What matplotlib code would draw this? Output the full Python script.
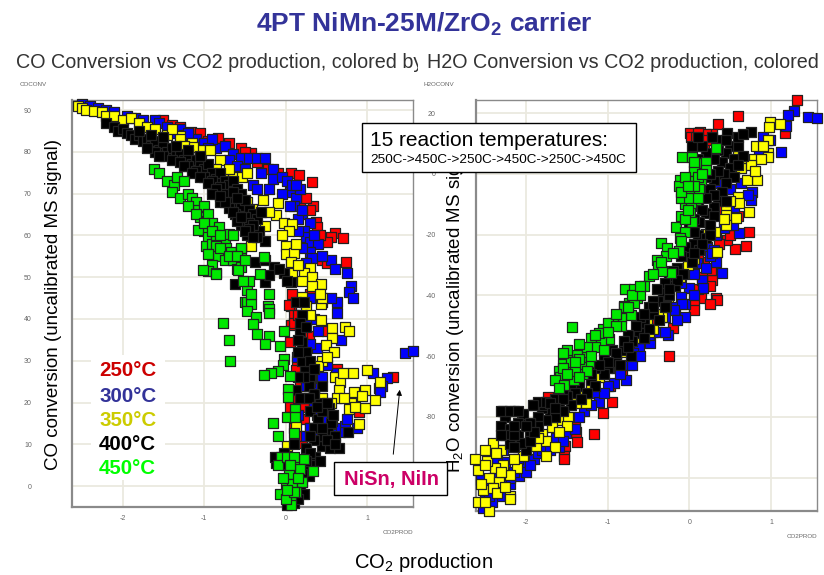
import matplotlib
matplotlib.use('Agg')
import matplotlib.pyplot as plt
from matplotlib.patches import Rectangle, FancyArrowPatch
from matplotlib.transforms import Bbox, TransformedBbox

plt.rcParams['font.family'] = ['Liberation Sans', 'DejaVu Sans']
plt.rcParams['mathtext.default'] = 'regular'
plt.rcParams['axes.unicode_minus'] = False

W, H = 824, 575

# CO conversion panel, (CO2 production, CO conversion)
co_red = [(-1.5,87.5),(-1.4,86.5),(-1.16,84.7),(-1.05,84.4),(-.83,83.2),(-.95,82.5),(-.55,81),(-.43,79.6),(-.5,80),(-.22,76),(.06,75),(.16,74.4),
          (.32,72.8),(.18,68),(.33,67),(.3,66),(.37,63.2),(.38,62),(.61,60.5),(.55,59.5),(.7,59.3),(.5,58.5),(.74,53.6),(.44,54),(.5,53.5),
          (.08,46),(.06,43),(.04,43.3),(.1,41),(.06,38.5),(.28,36),(.05,34.5),(.22,32.5),(.14,30),(.12,27.8),(.43,26),(.63,28),(1.32,26),
          (1.14,23.4),(.05,19),(.23,19),(.23,16),(.1,14),(.2,10.3),(.9,17.8),(.3,46),(.1,39),(.2,36),(-1.3,86),(-1.2,84),(-.7,82),(-.35,77.5),
          (-.1,75),(.1,72),(.25,69),(.42,60),(.15,41),(.25,41),(.18,25),(.05,23),(.15,21),(.3,14),(.15,12),(.35,23),(.5,37)]
co_blue = [(-2.5,91.5),(-2.4,91),(-2.3,90.5),(-2.2,90),(-2.1,89.5),(-1.95,88.5),(-1.85,88),(-1.75,87.5),(-1.6,87.5),(-1.55,87),(-1.45,86),
           (-1.3,85.5),(-1.25,84),(-1.1,83),(-1,82),(-.85,81),(-.75,81.5),(-.65,79.5),(-.55,78.5),(-.45,78.5),(-.35,78.5),(-.25,78.5),(-.3,75),
           (-.15,76),(-.4,72),(-.35,71),(-.15,73.5),(-.05,74),(.02,73),(.05,70.5),(.12,69),(.17,71),(.1,67),(.2,65),(.15,64),(.3,63),(.22,61),
           (.25,59.5),(.3,58.5),(.4,58),(.3,56),(.32,54.5),(.25,53.5),(.55,54),(.75,51),(.8,48),(.78,46.5),(.82,45),(.63,44),(.63,41.5),(.55,45),
           (.3,45),(.35,40),(.68,35),(.38,33),(.14,31),(.62,27),(.35,23.5),(.38,17),(.5,15.5),(.73,14.5),(.87,14),(.67,13),(.4,13),(.25,12),
           (1.46,31.8),(1.56,32.3),(1.07,27),(1.24,25.8),(1.18,24),(1.15,22.5),(-.9,83),(-.7,78),(.08,72),(.2,66),(.6,14),(-1.4,84.5),(-1.2,84.5),
           (-.95,81),(-.6,76.5),(-.5,76),(-.2,71),(-.05,70),(.12,72),(.05,67),(.15,61),(.35,60),(.2,57),(.45,55),(.6,52),(.45,44),(.25,39),(.4,37),
           (.3,34),(.5,29),(.45,26),(.25,24),(.35,20),(.15,17),(.55,12.5),(.3,14),(.75,16)]
co_yellow = [(-2.55,91),(-2.5,90.5),(-2.45,90),(-2.35,89.8),(-2.25,89.5),(-2.2,88.5),(-2.1,88.5),(-2,87.5),(-1.9,88),(-1.8,87),(-1.7,86),(-1.6,85.5),
             (-1.45,84),(-1.3,83.8),(-1.15,82),(-1.05,80.5),(-1.3,80.4),(-1.14,81.2),(-1.3,83),(-1.04,78.8),(-.93,80.5),(-.81,78),(-.9,74.2),(-.77,74.4),
             (-.65,74),(-.53,74),(-.48,75),(-.47,68),(-.28,68.4),(-.41,66.2),(-.1,67.7),(-.12,64.8),(-.02,63),(.08,62.8),(.04,61),(-.26,62.2),(-.43,57.4),
             (0,57.5),(0,55.6),(.1,55.7),(.07,53.6),(.3,52.3),(.22,51),(.32,50),(.08,51),(.2,49),(.43,48.3),(.32,48),(.2,45.2),(.43,43.5),(.25,43),
             (.45,45),(.43,39.7),(.57,37.8),(.73,38),(.78,37),(.57,35.5),(.49,33.8),(.59,32),(.45,30),(.39,28.8),(.6,26),(.67,25),(.83,27),(1,27.8),
             (.65,23),(.84,22.5),(.97,23),(.93,21.5),(.8,20),(.63,21),(.97,18.7),(1.1,20.5),(.78,18.5),(1.16,25),(.45,21),(.25,21),(.57,15.7),(.9,14.8),
             (.59,11.7),(.13,14.3),(.02,9.5),(-1.4,85.5),(-1.25,81.5),(-1.2,79.5),(-.7,76),(-.85,76),(-.2,65.5),(-.05,60),(.12,58),(.15,53),(.42,46),(.3,41),
             (.5,31),(.7,27),(.55,20),(.72,21),(.85,19),(.3,25)]
co_black = [(-2.2,87),(-2.1,86),(-2.05,85),(-2,85.5),(-1.95,84.5),(-1.9,84),(-1.85,83),(-1.8,84),(-1.75,82.5),(-1.7,83),(-1.65,81.5),(-1.6,82.5),
            (-1.55,80.5),(-1.5,82),(-1.45,80),(-1.4,81),(-1.35,79),(-1.3,79.5),(-1.25,78),(-1.2,79),(-1.15,77),(-1.1,78),(-1.05,76.5),(-1,76),(-.95,77),
            (-.9,75),(-.85,73.5),(-.8,75),(-.75,73),(-.7,72),(-.65,73),(-.6,71),(-.7,69.5),(-.65,68),(-.55,67),(-.55,70),(-.5,68.5),(-.45,66),(-.4,65),
            (-.35,64),(-.3,65.5),(-.47,60),(-.26,58.6),(-.33,61),(-.55,62.5),(-.62,65),(-.81,68),(-.38,53.6),(-.26,54),(-.14,52.4),(-.02,51),(.06,48.8),
            (-.26,48.8),(-.62,48.3),(.2,41),(.17,37),(.2,34.5),(.24,28),(.3,26),(.44,24),(.12,23),(.42,20),(.53,18.7),(.52,13.5),(.76,13),(.44,9.5),
            (.54,9),(.36,7),(.3,5),(.28,2.5),(.17,-1),(.01,-4.5),(-.12,5.5),(-.02,8),(.2,30),(.28,24),(.35,22),(.3,18),(.4,16),(.45,12),(.35,11),(.25,9),
            (.3,8),(.15,6),(.2,3),(.1,0),(.22,-2),(.05,-2.5),(.1,-4),(-.13,7),(.55,11),(.65,9),(-.08,52),(-.2,50.5),(.02,49),
            (-1.6,80),(-1.5,79),(-1.4,78),(-1.3,77.5),(-1.2,76.5),(-1.1,75.5),(-1,74),(-.9,73),(-.8,71.5),(-.75,70),(-.65,70.5),(-.6,69),(-.5,64.5),
            (-.45,63),(-.4,62.5),(-.45,61.5),(-.35,59.5),(-1.8,85),(-1.65,84),(-1.5,83.5),(-1.35,81.5),(-1.2,80.5),(-1.05,79),(-.7,66.5),(-.6,63.5),
            (.15,35),(.25,32),(.2,26),(.3,30),(.35,28),(.35,14),(.45,18),(.55,15),(.3,12),(.6,12),(.1,10),(0,5),(.05,3),(-1.7,81),(-1.55,79),(-1.25,76.5),
            (-1.15,75),(-1.05,74),(-.95,72.5),(-.85,71),(-.75,68),(-.65,65.5),(-.55,64.5),(-.5,61),(-.4,59.5),(-.9,70),(-.8,69.5),(.12,44),(.22,44),(.18,39),
            (.25,38),(.15,32),(.22,26),(.15,26),(.18,21),(.28,21),(.38,19),(.5,20),(.45,14),(.58,17),(.5,11),(.6,10),(.42,6),(.25,6),(.2,1),(.12,2.5),(.15,-3),(.05,-1)]
co_green = [(-1.62,76),(-1.55,75),(-1.45,73),(-1.37,72),(-1.33,74),(-1.25,73),(-1.4,70.5),(-1.3,69),(-1.2,70),(-1.15,69),(-1.1,68),(-1.08,66),(-1,67),
            (-1.05,64.5),(-.97,63.5),(-.95,65),(-.9,63),(-.82,62),(-1,61),(-1.07,61.3),(-.95,59.5),(-.98,57.5),(-.9,58),(-.85,60),(-.75,59),(-.7,60.3),
            (-.65,60),(-.85,57.5),(-.73,57),(-.67,56),(-.55,56.5),(-.83,55),(-.75,54),(-.95,55.5),(-.65,54),(-.9,53),(-.95,51.5),(-.85,51),(-.6,52),
            (-.55,52.5),(-1.02,51.7),(-.86,50.7),(-.58,51.7),(-.32,50.8),(-.27,54.8),(-.55,57),(-.2,46),(-.48,47),(-.45,49),(-.5,44),(-.45,44),(-.22,43),
            (-.48,44),(-.43,43.5),(-.47,42),(-.2,42.5),(-.2,41.5),(-.36,40.5),(-.77,39),(-.4,38.8),(-.35,36.5),(-.2,36),(-.25,34),(-.7,35),(-.68,30),
            (-.02,37),(-.07,33.5),(-.02,30.3),(-.03,29),(-.1,27.5),(-.18,27),(-.27,26.5),(.05,26.3),(.03,23.3),(.03,21.3),(.11,18.5),(.01,16.5),(.11,16.5),
            (-.16,15),(-.1,12),(.1,12.8),(-.06,7),(-.1,5),(.02,7),(.12,5.5),(.22,6.5),(.04,3),(.18,4),(.33,3.5),(0,0),(.08,.5),(.2,1),(-.07,-2),(.07,-2.5),
            (.07,-4.5),(.12,-1.3),(0,-3),(-1.2,67),(-1.1,65),(-1,63),(-.9,61),(-.8,60),(-.8,57),(-.7,55),(-.6,55),(-.5,54),(-.52,49),(-.42,46),
            (.1,7),(.05,5),(.15,2),(-.03,2),(.1,-1.5),(.02,-1)]

# H2O conversion panel, (CO2 production, H2O conversion)
h2o_red = [(1.31,24.3),(.6,18.9),(.35,16.4),(.01,13.4),(.13,13.7),(.27,13.2),(.2,11.2),(.05,11.5),(1.17,13.4),(.05,-19),(.73,-19),(.56,-24.7),(.69,-23.7),
           (.46,-21.7),(.36,-23),(.32,-40.8),(.28,-34.9),(.26,-31.6),(.14,-40.8),(.18,-29),(.1,-28),(.06,-43),(.34,-41.5),(.05,-44.7),(-.2,-50.8),(-.25,-60),
           (-.52,-55),(-.6,-51),(-.82,-65.6),(-.97,-70),(-.95,-75),(-1.06,-78.8),(-1.17,-85.6),(-1.39,-85),(-1.37,-88.4),(-1.52,-89.7),(-1.53,-93),(-1.73,-73.5),
           (-.9,-64),(-1.53,-94),(-1.75,-90.8),(.08,9),(.15,12.5),(.6,-14),(.02,12),(.08,12),(.2,13),(.18,9),(.1,10),(-.45,-52),(.25,-37),(.15,-34),(.25,-43),(.1,-38),
           (-.5,-50),(-.55,-53),(-.45,-48),(-1.4,-82),(.1,13.5),(.22,11),(.4,-12),(.5,-20)]
h2o_blue = [(1.28,20.7),(1.2,19.4),(1.45,18.8),(1.56,18.3),(1.18,15.8),(1.12,7.2),(.98,11.2),(.77,-5.9),(.75,-8.6),(.63,-3),(.61,-19.5),(.53,-17),(.32,-20),
            (.21,-24),(.33,-29),(.4,-32.5),(.15,-35),(.09,-29.5),(-.01,-37.5),(.16,-37.5),(-.1,-40.5),(-.06,-43),(-.18,-44),(.23,-7),(.33,-3),(-.09,-43),(-.19,-44.7),
            (-.26,-53),(-.48,-55.6),(-.62,-57.4),(-.69,-59),(-.74,-63),(-.86,-64),(-.78,-68),(-.92,-69),(-1.15,-72),(-1.29,-78),(-1.53,-78),(-1.45,-80),(-1.51,-85.4),
            (-1.63,-87),(-1.9,-94),(-2.03,-96),(-2.08,-99.5),(-2.2,-102),(-2.28,-91),(-2.55,-100.7),(-2.52,-110),(-2.32,-106),(-2.42,-108),(-2.45,-103),(-2.2,-100),
            (-1.75,-88),(-1.85,-92),(-2,-98),(-1.1,-75),(-1,-70),(-.5,-53),(-.3,-47),(-2.35,-98),(-2.5,-106),(-2.3,-103),(-1.35,-80),(-1.6,-90),(-1.8,-91),(-2.1,-94),
            (-.4,-52),(-.7,-63),(-.1,-36),(.05,-40),(.3,-25),(.72,-7),(.85,7),(.9,12),(.55,-11),(.5,-5),(.42,-18),(.25,-27),(.2,-31),(.28,-26),(.05,-33),(-.05,-47),
            (-.15,-48),(-.3,-52),(-.6,-60),(-.85,-66),(-1.05,-72),(-1.2,-76),(-1.4,-84),(-1.55,-88),(-1.7,-91),(-1.95,-96),(-2.15,-98),(-2.3,-100),(-2.45,-106),(-2.4,-100),
            (-2.25,-95),(-2.35,-94),(-2.5,-108)]
h2o_yellow = [(.99,17),(1.11,16.5),(.97,15.5),(.96,11),(.82,9),(.96,7),(.96,5.7),(.79,5),(.87,5),(.65,4),(.63,2),(.83,-2),(.7,-2),(.59,-7.5),(.61,-9.5),(.45,-12),
              (.45,-13.5),(.73,-12.7),(.57,-14.5),(.45,-17),(.31,-19),(.2,-19.7),(.34,-25.6),(-.02,-30),(-.12,-34),(-.26,-40.5),(-.29,-43.5),(-.3,-43.5),(-.34,-47),
              (-.44,-51),(-.52,-48),(-.56,-54),(-.66,-54),(-.8,-58.5),(-.9,-61),(-1.15,-66),(-1.17,-68.5),(-1.1,-67),(-1.29,-73),(-1.39,-75.5),(-1.27,-75.5),(-1.57,-81),
              (-1.48,-80),(-1.68,-83.5),(-1.8,-85.5),(-1.75,-88),(-1.88,-89.5),(-1.65,-90),(-1.75,-93),(-2.03,-93),(-2.11,-97),(-2.19,-99),(-2.28,-96),(-2.38,-97),
              (-2.3,-91),(-2.4,-88.5),(-2.5,-91),(-2.62,-94),(-2.48,-94.5),(-2.58,-97.5),(-2.37,-92),(-2.45,-100),(-2.33,-101.5),(-2.52,-104),(-2.4,-103.5),(-2.58,-108),
              (-2.2,-106),(-2.2,-107),(-2.45,-111),(.75,3),(.9,9),(.6,6),(.8,1),(.5,-9),(.42,-15),(.05,-28),(-.6,-52),(-.5,-52),(-.38,-46),(-2.5,-96),(-2.55,-102),(-2.3,-98),
              (-2.35,-105),(-2.15,-94),(-2.25,-103),(-2.5,-108),(-1.35,-72),(-1.2,-70),(-1.5,-83),(-1.6,-85),(-1.85,-87)]
h2o_black = [(.46,13.5),(.75,13.7),(.03,9),(.5,9),(.45,7),(.55,5),(.4,4),(.5,2),(.42,0),(.55,-1),(.3,-2),(.45,-3),(.25,-5),(.4,-6),(.35,-9),(.3,-11),(.2,-13),(.3,-14),
             (.12,-16),(.25,-17),(.1,-20),(.2,-21),(.05,-23),(.12,-25),(-.03,-27),(.03,-29),(-.15,-31),(-.08,-33),(-.25,-35),(-.18,-37),(-.32,-39),(-.25,-40),(-.38,-42),
             (-.3,-44),(-.45,-46),(-.37,-48),(-.55,-49),(-.5,-51),(-.62,-52.5),(-.55,-54),(-.7,-55),(-.8,-58),(-.72,-60),(-.9,-62),(-.85,-63),(-1,-64),(-1.05,-66),
             (-1.2,-68),(-1.15,-70),(-1.35,-70),(-1.25,-72),(-1.4,-72),(-1.32,-74),(-1.5,-73),(-1.45,-76),(-1.6,-75),(-1.55,-78),(-1.7,-78),(-1.65,-80),(-1.8,-77),
             (-1.75,-81),(-1.85,-80),(-1.85,-83),(-1.95,-82),(-1.95,-85),(-2.05,-80),(-2.15,-78),(-2.25,-80),(-2.3,-83),(-2.2,-84),(-2.25,-86),(-2.1,-86),(-2.05,-89),
             (-2,-91),(-2.2,-89),(-1.8,-76),(-1.9,-76),(-1.85,-75),(-2.28,-78),(-2.04,-79),(-1.91,-76),(-2.06,-88.5),(-1.95,-82),(.25,6),(.35,8),(.15,3),(.6,9),(.65,6),
             (.6,12),(.35,11),(.6,3),(.3,5),(.2,7),(.15,9),(.35,1),(.2,-1),(.3,-7),(.2,-8),(.1,-10),(.15,-12),(.05,-15),(0,-18),(.05,-19),(-.05,-24),(-.1,-27),(-.2,-32),
             (-.3,-36),(-.4,-38),(-.45,-42),(-.5,-44),(-.6,-47),(-.65,-50),(-.75,-53),(-.8,-55),(-.95,-58),(-1.05,-61),(-1.15,-64),(-1.3,-66),(-1.45,-69),(-1.55,-71),
             (-1.65,-74),(-1.75,-75),(-1.7,-75.5),(-2.3,-78),(-2.2,-78),(-2.1,-78),(-2.1,-82),(-2.3,-86),(-2.15,-86),(-2.15,-90),(-1.95,-88),(-1.9,-85),(.1,12),(.1,5),
             (.28,12),(.45,11),(.65,13),(.25,0),(.45,-9),(.25,-20),(.15,-23),(.05,-26),(-.15,-35),(-.25,-38),(-.45,-44),(-.55,-46),(-.75,-57),(-.9,-59),(-1,-62),(-1.1,-63),
             (-1.2,-66),(-1.55,-74),(-1.65,-77),(-2,-83),(-2.15,-83)]
h2o_green = [(.32,8.6),(-.09,5.7),(.03,5.7),(.08,3.5),(.2,4),(.2,1.3),(.06,1),(-.11,-2),(.02,-2.5),(.14,-2),(-.13,-4),(-.01,-6.3),(.12,-5),(.08,-8.6),(-.06,-10),(.02,-10.5),
             (-.1,-14),(.01,-13),(-.17,-17.4),(.03,-16),(-.06,-19),(-.11,-21),(-.35,-22.8),(-.27,-24.5),(-.13,-25.5),(-.29,-27),(-.4,-28.5),(-.38,-30.5),(-.22,-32.6),
             (-.5,-33.6),(-.34,-32),(-.56,-37),(-.79,-38),(-.68,-38),(-.74,-42.5),(-.8,-43.5),(-.64,-41),(-.68,-42.5),(-.8,-44),(-.72,-46.5),(-.84,-47.5),(-.94,-49),
             (-.84,-50),(-1.06,-51),(-1.43,-50.5),(-.98,-54.5),(-1.2,-54),(-1.08,-55),(-1.16,-57),(-1.04,-58),(-1.29,-59),(-1.5,-60),(-1.38,-59.5),(-1.23,-62),(-1.55,-62.5),
             (-1.33,-63.5),(-1.48,-64),(-1.6,-65),(-1.3,-66),(-1.46,-67),(-1.58,-67),(-1.65,-68),(-1.53,-69.5),(-1.6,-70.5),(-1.41,-68),(-1.5,-58),(-1.25,-57),(-1.35,-61),
             (-1.45,-62),(-1.4,-65),(-1.2,-60),(-1.1,-52.5),(-1,-49),(-.9,-46),(-.75,-44),(-.6,-40),(-.45,-33),(-.35,-29),(-.2,-26),(-.1,-22),(-.05,-15),(-.1,-8),(.1,-1),
             (.05,4),(.15,0),(0,-8),(-.1,-6),(-.02,-12),(-.7,-40),(-.9,-50),(-.6,-37),(-1,-52),(-1.15,-53),(-1.35,-56),(-1.55,-59),(-1.4,-62),(-1.25,-65),(-1.55,-64),
             (-1.5,-66),(-1.35,-67),(-.05,-1),(.05,-4),(.1,-8),(-.02,-4)]

series_colors = ['#ff0000', '#0000ff', '#ffff00', '#000000', '#00e800']
temp_labels = ['250°C', '300°C', '350°C', '400°C', '450°C']
temp_colors = ['#cc0000', '#333399', '#cccc00', '#000000', '#00ff00']
co_ticks_y = [0, 10, 20, 30, 40, 50, 60, 70, 80, 90]
h2o_ticks_y = [-100, -80, -60, -40, -20, 0, 20]
ticks_x = [-2, -1, 0, 1]


def px(x, y):
    return x / W, 1 - y / H


def make_axes(left, right, top, bottom, xlim, ylim, yticks):
    ax = fig.add_axes([left / W, 1 - bottom / H, (right - left) / W, (bottom - top) / H])
    ax.set_xlim(xlim)
    ax.set_ylim(ylim)
    ax.set_xticks(ticks_x)
    ax.set_yticks(yticks)
    ax.grid(True, color='#ebe9df', lw=1.3)
    ax.set_axisbelow(True)
    ax.tick_params(length=0, labelsize=5, labelcolor='#666666')
    ax.tick_params(axis='y', pad=29)
    ax.tick_params(axis='x', pad=6)
    for s in ax.spines.values():
        s.set_color('#8a8a8a')
        s.set_linewidth(1.0)
    ax.spines['left'].set_linewidth(1.6)
    ax.spines['bottom'].set_linewidth(1.6)
    return ax


def draw_points(ax, groups):
    for pts, c in zip(groups, series_colors):
        xs = [p[0] for p in pts]
        ys = [p[1] for p in pts]
        ax.scatter(xs, ys, s=56, marker='s', c=c, edgecolors='#222222', linewidths=0.9, clip_on=False, zorder=3)


fig = plt.figure(figsize=(W / 100, H / 100), dpi=100)

ax1 = make_axes(72, 413, 100, 507, (-2.62, 1.56), (-5, 92.4), co_ticks_y)
draw_points(ax1, [co_red, co_blue, co_yellow, co_black, co_green])
ax2 = make_axes(476, 817, 100, 511, (-2.61, 1.56), (-111, 24.3), h2o_ticks_y)
draw_points(ax2, [h2o_red, h2o_blue, h2o_yellow, h2o_black, h2o_green])


# everything below sits on top of the panels, placed in figure pixels
def label(x, y, s, **kw):
    kw.setdefault('ha', 'left')
    kw.setdefault('va', 'center')
    kw.setdefault('zorder', 10)
    return fig.text(*px(x, y), s, **kw)


def box(x0, y0, x1, y1, **kw):
    fig.add_artist(Rectangle(px(x0, y1), (x1 - x0) / W, (y1 - y0) / H, transform=fig.transFigure, **kw))


label(424, 24, '4PT NiMn-25M/ZrO$_2$ carrier', ha='center', fontsize=19, fontweight='bold', color='#333399')
t = label(16, 63, 'CO Conversion vs CO2 production, colored by', fontsize=14.2, color='#333333')
t.set_clip_box(TransformedBbox(Bbox([[0, 0], [418 / W, 1]]), fig.transFigure))
t.set_clip_on(True)
label(427, 63, 'H2O Conversion vs CO2 production, colored', fontsize=14.2, color='#333333')
label(20, 85, 'COCONV', fontsize=4.5, color='#666666')
label(423, 85, 'H2OCONV', fontsize=4.5, color='#666666')
t2 = label(383, 532, 'CO2PROD', fontsize=4.5, color='#666666')
t2.set_clip_box(TransformedBbox(Bbox([[0, 0], [417 / W, 1]]), fig.transFigure))
t2.set_clip_on(True)
label(787, 536, 'CO2PROD', fontsize=4.5, color='#666666')

label(54, 304, 'CO conversion (uncalibrated MS signal)', ha='center', rotation=90, fontsize=13.5, color='black')
label(456, 303, 'H$_2$O conversion (uncalibrated MS signal)', ha='center', rotation=90, fontsize=13.5, color='black', zorder=11)

box(362, 123, 636, 172, facecolor='white', edgecolor='black', linewidth=1, zorder=12)
label(370, 140, '15 reaction temperatures:', fontsize=15, color='black', zorder=13)
label(370, 160, '250C->450C->250C->450C->250C->450C', fontsize=9.7, color='black', zorder=13)

box(91, 355, 165, 480, facecolor='white', edgecolor='none', zorder=5)
for name, c, yy in zip(temp_labels, temp_colors, [371, 396, 420, 444, 468]):
    label(99, yy, name, fontsize=14.8, fontweight='bold', color=c)

box(334, 462, 447, 495, facecolor='white', edgecolor='black', linewidth=1, zorder=12)
label(391, 479, 'NiSn, NiIn', ha='center', fontsize=14.5, fontweight='bold', color='#cc0066', zorder=13)
fig.add_artist(FancyArrowPatch(px(393, 457), px(400, 387), transform=fig.transFigure,
                               arrowstyle='-|>', mutation_scale=8, color='black', lw=0.7, zorder=13))

label(424, 563, 'CO$_2$ production', ha='center', fontsize=14.5, color='black')

fig.savefig('out.png', dpi=100)
